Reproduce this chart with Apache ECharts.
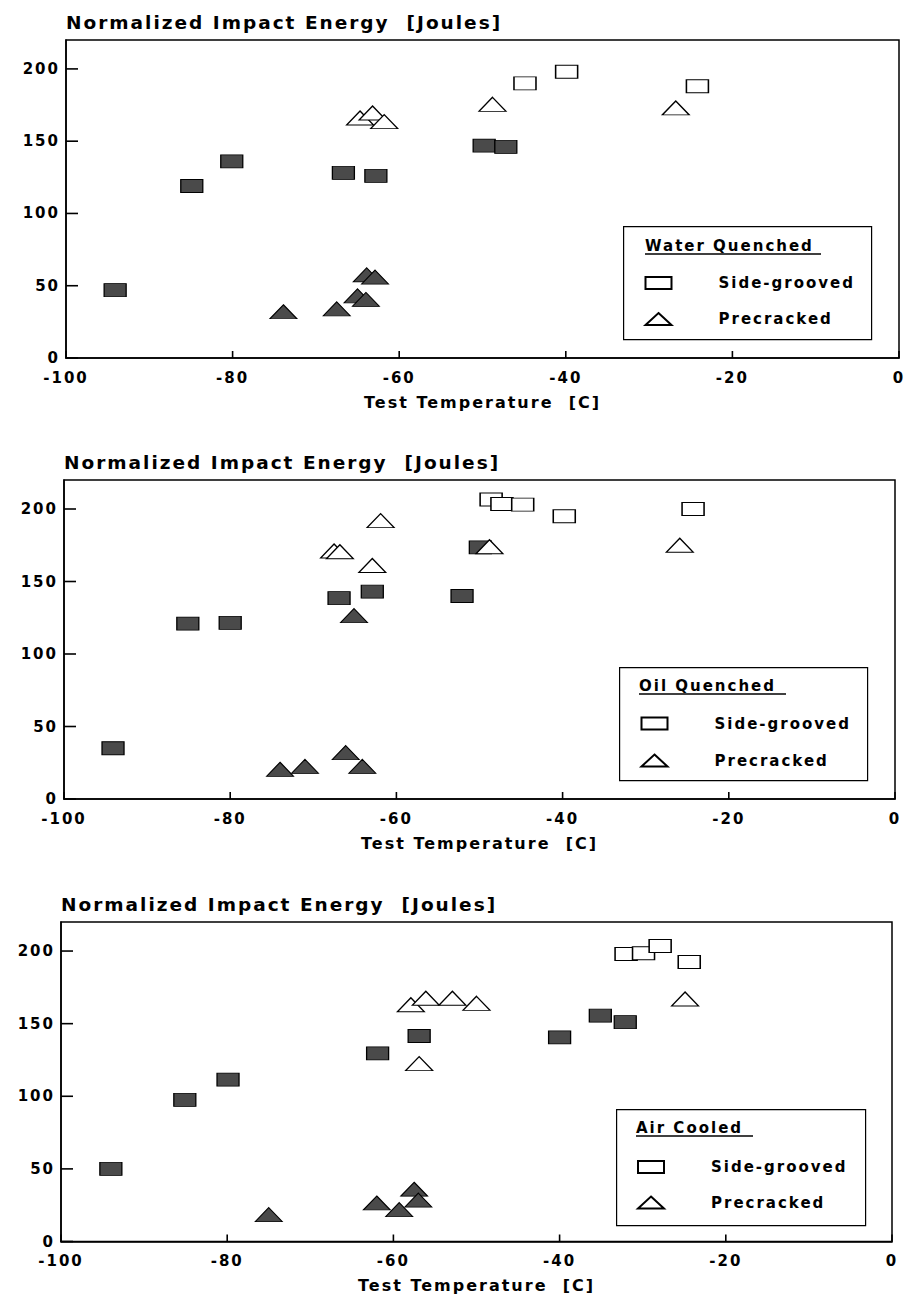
<!DOCTYPE html>
<html><head><meta charset="utf-8">
<script src="https://cdn.jsdelivr.net/npm/echarts@6/dist/echarts.min.js"></script>
<style>
html,body{margin:0;padding:0;background:#fff;}
#chart{width:905px;height:1299px;}
#chart svg text{letter-spacing:2px;}
</style></head><body><div id="chart"></div>
<script>
// ---- tick labels / categories ----
const xTicks = [-100, -80, -60, -40, -20, 0];
const yTicks = [0, 50, 100, 150, 200];
const panelNames = ['Water Quenched', 'Oil Quenched', 'Air Cooled'];
const seriesNames = ['Side-grooved', 'Precracked'];
const yTitle = 'Normalized Impact Energy  [Joules]';
const xTitle = 'Test Temperature  [C]';

// ---- Water Quenched ----
const wqSideFilled = [[-94.1,47],[-84.9,119],[-80.1,136],[-66.7,128],[-62.8,126],[-49.8,147],[-47.2,146]];
const wqSideOpen   = [[-44.9,190],[-39.9,198],[-24.2,188]];
const wqPreFilled  = [[-73.9,32],[-67.5,34],[-65.0,43],[-64.0,40.5],[-63.9,57.5],[-62.9,56]];
const wqPreOpen    = [[-64.7,166],[-63.2,169.5],[-61.8,163.5],[-48.8,175.5],[-26.8,173]];
// ---- Oil Quenched ----
const oqSideFilled = [[-94.1,35],[-85.1,121],[-80.0,121.5],[-66.9,138.5],[-62.9,143],[-52.1,140],[-49.9,173.5]];
const oqSideOpen   = [[-48.6,206.5],[-47.3,203.5],[-44.8,203],[-39.8,195],[-24.3,200]];
const oqPreFilled  = [[-65.1,126.5],[-66.1,32],[-64.1,22.5],[-74.0,20.5],[-71.0,22.5]];
const oqPreOpen    = [[-67.5,171],[-66.8,170.5],[-61.9,192],[-62.9,161],[-48.8,174],[-25.9,175]];
// ---- Air Cooled ----
const acSideFilled = [[-94.0,50],[-85.1,97.5],[-79.9,111.5],[-61.9,129.5],[-56.9,141.5],[-40.0,140.5],[-35.1,155.5],[-32.1,151]];
const acSideOpen   = [[-32.0,198],[-29.9,198.5],[-27.9,203.5],[-24.4,192.5]];
const acPreFilled  = [[-75.0,18.5],[-62.0,26.5],[-59.3,22],[-57.5,36],[-57.0,28.5]];
const acPreOpen    = [[-57.9,163],[-56.1,167.5],[-52.9,167.5],[-50.0,164],[-56.9,122.5],[-24.9,167]];

const panels = [
  {sf: wqSideFilled, so: wqSideOpen, pf: wqPreFilled, po: wqPreOpen},
  {sf: oqSideFilled, so: oqSideOpen, pf: oqPreFilled, po: oqPreOpen},
  {sf: acSideFilled, so: acSideOpen, pf: acPreFilled, po: acPreOpen}
];

// ---- layout ----
const FONT = 'DejaVu Sans';
const grids = [
  {left: 66, top: 40, width: 833, height: 318},
  {left: 64, top: 480, width: 831, height: 319},
  {left: 61, top: 922, width: 831, height: 319.5}
];
const legendBoxes = [
  {x: 623, y: 226, w: 248, h: 113, tx: 645, ty: 247, lx: 639.5, ly: 270.5, gap: 21},
  {x: 619, y: 667, w: 248, h: 113, tx: 639, ty: 687, lx: 635.5, ly: 711, gap: 22},
  {x: 616, y: 1109, w: 249, h: 116, tx: 636, ty: 1129, lx: 632, ly: 1154.5, gap: 20.5}
];

const filledStyle = {color: '#4a4a4a', borderColor: '#000', borderWidth: 1, opacity: 1};
const openStyle = {color: '#fff', borderColor: '#000', borderWidth: 1.2, opacity: 1};
const rectSize = [22, 13];
const triSize = [27, 14];
const Y_TICK_LEN = 12, X_TICK_LEN = 7;

const xAxes = [], yAxes = [], series = [], legends = [], graphics = [];
grids.forEach((g, i) => {
  xAxes.push({
    type: 'value', gridIndex: i, position: 'bottom', min: xTicks[0], max: xTicks[xTicks.length - 1], interval: 20,
    name: xTitle, nameLocation: 'middle', nameGap: 36,
    nameTextStyle: {fontFamily: FONT, fontWeight: 'bold', fontSize: 16, color: '#000'},
    axisLine: {show: true, onZero: false, lineStyle: {color: '#000', width: 1.5}},
    axisTick: {show: false},
    axisLabel: {margin: 12, fontFamily: FONT, fontWeight: 'bold', fontSize: 15, color: '#000'},
    splitLine: {show: false}
  });
  yAxes.push({
    type: 'value', gridIndex: i, position: 'left', min: 0, max: 220, interval: 50,
    name: yTitle, nameLocation: 'end', nameGap: 18,
    nameTextStyle: {fontFamily: FONT, fontWeight: 'bold', fontSize: 18.5, color: '#000', align: 'left', verticalAlign: 'middle'},
    axisLine: {show: true, onZero: false, lineStyle: {color: '#000', width: 1.5}},
    axisTick: {show: false},
    axisLabel: {margin: 6, fontFamily: FONT, fontWeight: 'bold', fontSize: 15, color: '#000',
      formatter: v => (yTicks.indexOf(v) >= 0 ? String(v) : '')},
    splitLine: {show: false}
  });
  const p = panels[i];
  series.push(
    {name: 'Side-grooved (filled)', type: 'scatter', xAxisIndex: i, yAxisIndex: i, data: p.sf,
      symbol: 'rect', symbolSize: rectSize, itemStyle: filledStyle, z: 2},
    {name: 'Precracked (filled)', type: 'scatter', xAxisIndex: i, yAxisIndex: i, data: p.pf,
      symbol: 'triangle', symbolSize: triSize, itemStyle: filledStyle, z: 2},
    {name: seriesNames[0], type: 'scatter', xAxisIndex: i, yAxisIndex: i, data: p.so,
      symbol: 'rect', symbolSize: rectSize, itemStyle: openStyle, z: 3},
    {name: seriesNames[1], type: 'scatter', xAxisIndex: i, yAxisIndex: i, data: p.po,
      symbol: 'triangle', symbolSize: triSize, itemStyle: openStyle, z: 4},
    // inside tick marks, placed through the axis scales
    {name: 'y ticks', type: 'custom', xAxisIndex: i, yAxisIndex: i, silent: true, z: 5,
      data: yTicks.map(v => [xTicks[0], v]),
      renderItem: (params, api) => {
        const pt = api.coord([api.value(0), api.value(1)]);
        return {type: 'line', shape: {x1: pt[0], y1: pt[1], x2: pt[0] + Y_TICK_LEN, y2: pt[1]},
          style: {stroke: '#000', lineWidth: 1.6}};
      }},
    {name: 'x ticks', type: 'custom', xAxisIndex: i, yAxisIndex: i, silent: true, z: 5,
      data: xTicks.map(v => [v, yTicks[0]]),
      renderItem: (params, api) => {
        const pt = api.coord([api.value(0), api.value(1)]);
        return {type: 'line', shape: {x1: pt[0], y1: pt[1], x2: pt[0], y2: pt[1] - X_TICK_LEN},
          style: {stroke: '#000', lineWidth: 1.6}};
      }}
  );
  const b = legendBoxes[i];
  legends.push({
    orient: 'vertical', left: b.lx, top: b.ly, itemWidth: 26, itemHeight: 12, itemGap: b.gap,
    selectedMode: false, data: seriesNames, z: 20,
    textStyle: {fontFamily: FONT, fontWeight: 'bold', fontSize: 15, color: '#000', padding: [0, 0, 0, 42]}
  });
  graphics.push(
    {type: 'rect', left: b.x, top: b.y, shape: {width: b.w, height: b.h},
      style: {fill: 'rgba(255,255,255,0)', stroke: '#000', lineWidth: 1.2}, z: 1},
    {type: 'text', left: b.tx, top: b.ty - 9, z: 11,
      style: {text: panelNames[i], fontFamily: FONT, fontWeight: 'bold', fontSize: 15, fill: '#000'}},
    {type: 'line', z: 11, shape: {x1: b.tx, y1: b.ty + 7, x2: b.tx + (i === 0 ? 176 : (i === 1 ? 147 : 117)), y2: b.ty + 7},
      style: {stroke: '#000', lineWidth: 1.3}}
  );
});

const chart = echarts.init(document.getElementById('chart'), null, {renderer: 'svg', width: 905, height: 1299});
chart.setOption({
  animation: false,
  backgroundColor: '#fff',
  grid: grids.map(g => Object.assign({show: true, borderColor: '#000', borderWidth: 1.5, outerBoundsMode: 'none'}, g)),
  xAxis: xAxes,
  yAxis: yAxes,
  legend: legends,
  graphic: graphics,
  series: series
});
</script></body></html>
